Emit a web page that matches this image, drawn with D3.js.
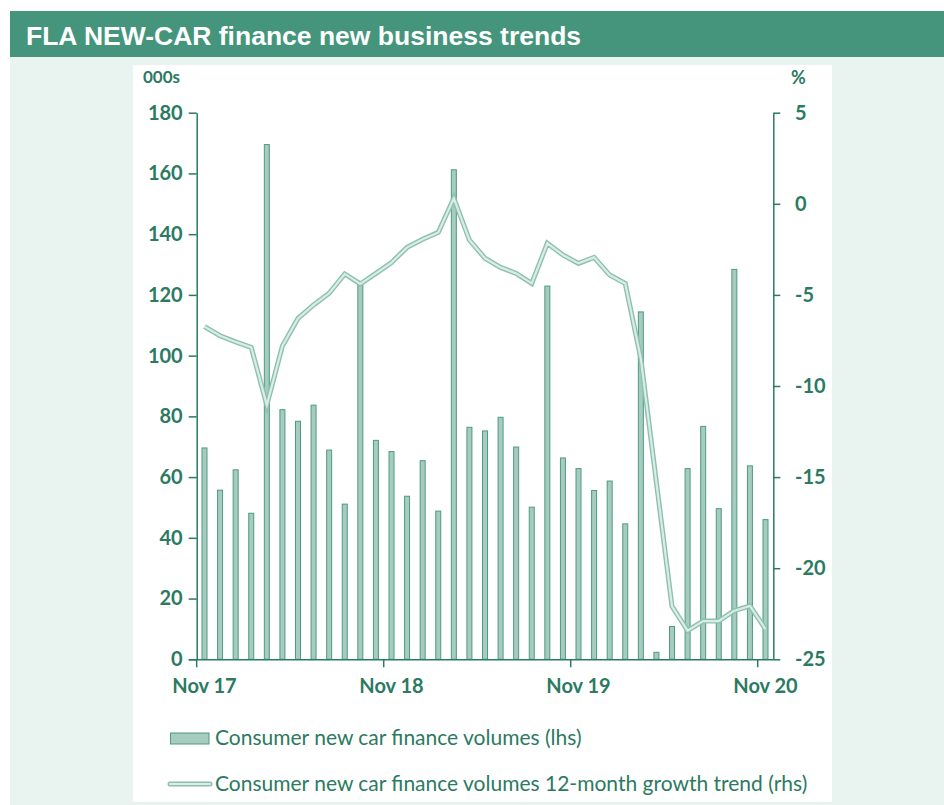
<!DOCTYPE html>
<html>
<head>
<meta charset="utf-8">
<script src="https://cdn.jsdelivr.net/npm/d3@7/dist/d3.min.js"></script>
<style>
  html, body { margin: 0; padding: 0; background: #ffffff; }
  svg { display: block; }
</style>
</head>
<body>
<script>
const months = ["Nov 17","Dec 17","Jan 18","Feb 18","Mar 18","Apr 18","May 18","Jun 18","Jul 18","Aug 18","Sep 18","Oct 18",
  "Nov 18","Dec 18","Jan 19","Feb 19","Mar 19","Apr 19","May 19","Jun 19","Jul 19","Aug 19","Sep 19","Oct 19",
  "Nov 19","Dec 19","Jan 20","Feb 20","Mar 20","Apr 20","May 20","Jun 20","Jul 20","Aug 20","Sep 20","Oct 20","Nov 20"];
const volumes = [69.6,55.7,62.4,48.1,169.5,82.2,78.4,83.7,68.9,51.1,123.4,72.1,
  68.4,53.7,65.4,48.8,161.2,76.4,75.2,79.7,69.9,50.1,122.9,66.3,
  62.8,55.6,58.7,44.6,114.4,2.3,10.8,62.8,76.7,49.6,128.4,63.7,46.0];
const growth = [-6.74,-7.24,-7.58,-7.88,-11.05,-7.8,-6.29,-5.55,-4.91,-3.85,-4.40,-3.82,
  -3.23,-2.39,-1.95,-1.57,0.30,-1.99,-2.99,-3.49,-3.82,-4.37,-2.17,-2.81,
  -3.27,-2.94,-3.91,-4.37,-8.5,-15.3,-22.1,-23.43,-22.9,-22.9,-22.33,-22.07,-23.34];
const xTickLabels = ["Nov 17","Nov 18","Nov 19","Nov 20"];
const leftTicks = [0,20,40,60,80,100,120,140,160,180];
const rightTicks = [-25,-20,-15,-10,-5,0,5];
const legendLabels = ["Consumer new car finance volumes (lhs)",
  "Consumer new car finance volumes 12-month growth trend (rhs)"];
const title = "FLA NEW-CAR finance new business trends";

const W = 944, H = 805;
const TXT = "#2b7a61";
const svg = d3.select("body").append("svg").attr("width", W).attr("height", H);

// backgrounds
svg.append("rect").attr("x",10).attr("y",57).attr("width",W-10).attr("height",H-57).attr("fill","#e9f3ef");
svg.append("rect").attr("x",10).attr("y",11).attr("width",W-10).attr("height",46).attr("fill","#44957c");
svg.append("text").attr("x",26).attr("y",45).text(title)
  .attr("fill","#ffffff").attr("font-family","'Liberation Sans', Arial, sans-serif")
  .attr("font-weight","bold").attr("font-size",26.5);
svg.append("rect").attr("x",133).attr("y",65).attr("width",699).attr("height",737).attr("fill","#ffffff");

const x = d3.scaleBand().domain(months).range([196.7, 773.3]).paddingInner(0).paddingOuter(0);
const yL = d3.scaleLinear().domain([0,180]).range([659.3,112.7]);
const yR = d3.scaleLinear().domain([-25,5]).range([659.3,112.7]);

const font = "Lato, 'Open Sans', sans-serif";

// bars
const bw = 5;
svg.append("g").selectAll("rect").data(volumes).join("rect")
  .attr("x",(d,i)=>x(months[i]) + x.bandwidth()/2 - bw/2)
  .attr("y",d=>yL(d))
  .attr("width",bw)
  .attr("height",d=>yL(0)-yL(d))
  .attr("fill","#a5ccbe").attr("stroke","#4f9a81").attr("stroke-width",1);

// line
const line = d3.line().x((d,i)=>x(months[i]) + x.bandwidth()/2).y(d=>yR(d));
svg.append("path").datum(growth).attr("d",line).attr("fill","none")
  .attr("stroke","#8dc0ae").attr("stroke-width",5).attr("stroke-linejoin","miter");
svg.append("path").datum(growth).attr("d",line).attr("fill","none")
  .attr("stroke","#d9ede6").attr("stroke-width",2.2).attr("stroke-linejoin","miter");

// axes
function styleAxis(g){
  g.selectAll("path.domain").attr("stroke",TXT).attr("stroke-width",1.5);
  g.selectAll(".tick line").attr("stroke",TXT).attr("stroke-width",1.5);
  g.selectAll(".tick text").attr("fill",TXT).attr("font-family",font)
    .attr("font-weight","bold").attr("font-size",20);
}
const gL = svg.append("g").attr("transform","translate(196.7,0)")
  .call(d3.axisLeft(yL).tickValues(leftTicks).tickSize(8).tickSizeOuter(0).tickPadding(6).tickFormat(d3.format("d")));
styleAxis(gL);
const gR = svg.append("g").attr("transform","translate(773.3,0)")
  .call(d3.axisRight(yR).tickValues(rightTicks).tickSize(7).tickSizeOuter(0).tickPadding(0).tickFormat(d=>d<0?"-"+Math.abs(d):String(d)));
styleAxis(gR);
gR.selectAll(".tick text").attr("x",21.7);

const gX = svg.append("g").attr("transform","translate(0,659.3)")
  .call(d3.axisBottom(x).tickValues(xTickLabels).tickSize(8).tickSizeOuter(0).tickPadding(12));
styleAxis(gX);
gX.select("path.domain").attr("d","M188.7,0.5H773.3");
gX.selectAll(".tick line").attr("x1",-x.bandwidth()/2).attr("x2",-x.bandwidth()/2);
gX.selectAll(".tick text").attr("dy","0.71em");

// unit labels
svg.append("text").attr("x",143).attr("y",83).text("000s").attr("fill",TXT)
  .attr("font-family",font).attr("font-weight","bold").attr("font-size",17);
svg.append("text").attr("x",791).attr("y",84).text("%").attr("fill",TXT)
  .attr("font-family",font).attr("font-weight","bold").attr("font-size",18);

// legend
svg.append("rect").attr("x",170.5).attr("y",733).attr("width",38.5).attr("height",11)
  .attr("fill","#a5ccbe").attr("stroke","#4f9a81").attr("stroke-width",1);
svg.append("line").attr("x1",170).attr("x2",210).attr("y1",784).attr("y2",784)
  .attr("stroke","#8dc0ae").attr("stroke-width",5).attr("stroke-linecap","round");
svg.append("line").attr("x1",170).attr("x2",210).attr("y1",784).attr("y2",784)
  .attr("stroke","#d9ede6").attr("stroke-width",2.2).attr("stroke-linecap","round");
svg.selectAll("text.leg").data(legendLabels).join("text").attr("class","leg")
  .attr("x",215).attr("y",(d,i)=>745 + i*46).text(d=>d)
  .attr("fill",TXT).attr("font-family",font).attr("font-size",21);
</script>
</body>
</html>
